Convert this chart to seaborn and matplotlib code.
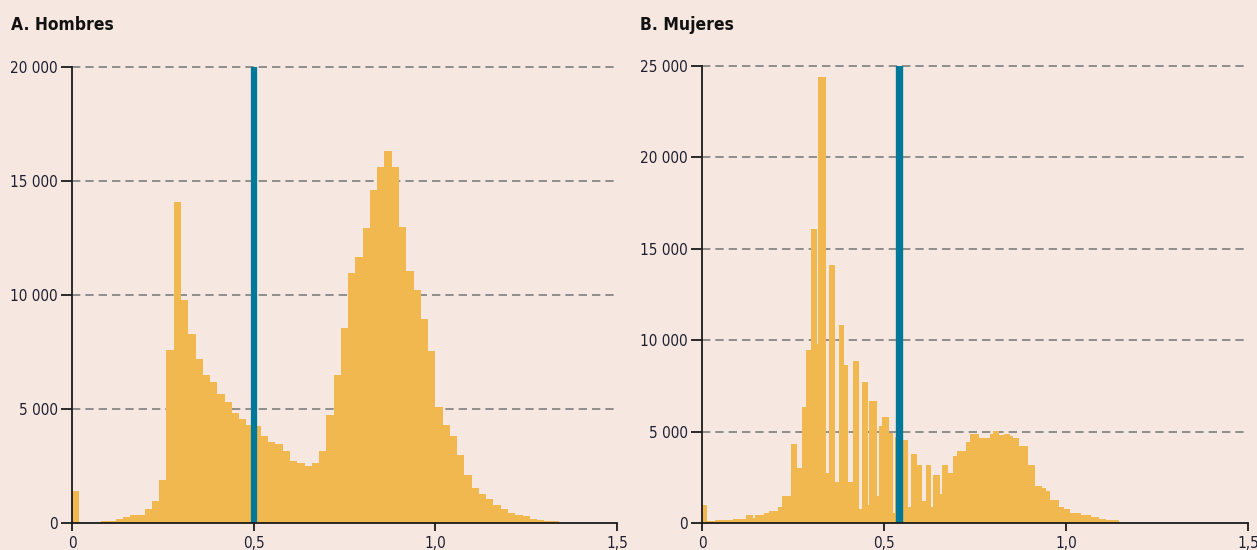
import numpy as np
import pandas as pd
import matplotlib
matplotlib.use("Agg")
import matplotlib.pyplot as plt
from matplotlib import font_manager
import seaborn as sns

# A. Hombres: counts per bin of width 0.02, starting at 0
bin_width_h = 0.02
hombres_counts = [1400, 0, 0, 0, 100, 100, 190, 275, 365, 365,
                  610, 950, 1870, 7600, 14080, 9800, 8300, 7200, 6500, 6170,
                  5660, 5300, 4820, 4580, 4310, 4240, 3800, 3550, 3480, 3140,
                  2730, 2630, 2490, 2630, 3140, 4740, 6500, 8540, 10980, 11670,
                  12930, 14600, 15600, 16300, 15600, 13000, 11050, 10200, 8960, 7540,
                  5100, 4320, 3800, 2970, 2120, 1540, 1270, 1050, 780, 610,
                  440, 370, 290, 190, 120, 100, 100]
hombres_ref = 0.5

# B. Mujeres: irregular bins (edges) and counts
mujeres_edges = [0.0, 0.015, 0.035, 0.085, 0.12, 0.14, 0.145, 0.17, 0.185, 0.21,
                 0.22, 0.245, 0.26, 0.275, 0.285, 0.30, 0.315, 0.32, 0.34, 0.35,
                 0.365, 0.375, 0.39, 0.40, 0.415, 0.43, 0.44, 0.455, 0.46, 0.48,
                 0.485, 0.495, 0.515, 0.525, 0.53, 0.55, 0.565, 0.575, 0.59, 0.605,
                 0.615, 0.63, 0.635, 0.655, 0.66, 0.675, 0.69, 0.70, 0.725, 0.735,
                 0.76, 0.79, 0.80, 0.815, 0.83, 0.845, 0.855, 0.87, 0.895, 0.915,
                 0.935, 0.945, 0.955, 0.98, 0.995, 1.01, 1.04, 1.07, 1.09, 1.11, 1.145]
mujeres_counts = [960, 90, 140, 240, 450, 270, 450, 550, 670, 870,
                  1490, 4340, 3000, 6320, 9470, 16100, 9800, 24400, 2730, 14100,
                  2220, 10840, 8620, 2220, 8840, 770, 7690, 1000, 6650, 1470,
                  5280, 5800, 4920, 550, 4700, 4520, 870, 3790, 3150, 1180,
                  3150, 870, 2640, 1580, 3150, 2730, 3680, 3920, 4430, 4870,
                  4650, 4870, 5060, 4830, 4880, 4770, 4650, 4230, 3190, 2040,
                  1910, 1730, 1270, 850, 770, 550, 420, 330, 220, 140]
mujeres_ref = 0.54

x_ticks = [0, 0.5, 1.0, 1.5]
x_labels = ["0", "0,5", "1,0", "1,5"]
y_ticks_h = [0, 5000, 10000, 15000, 20000]
y_labels_h = ["0", "5 000", "10 000", "15 000", "20 000"]
y_ticks_m = [0, 5000, 10000, 15000, 20000, 25000]
y_labels_m = ["0", "5 000", "10 000", "15 000", "20 000", "25 000"]

BG = "#F6E8E1"
BAR = "#F0B84F"
BLUE = "#00789A"
TXT = "#1E1E30"

sns.set_style("ticks")
# condensed face if any is installed
names = {f.name for f in font_manager.fontManager.ttflist}
narrow = [n for n in ["Liberation Sans Narrow", "DejaVu Sans Condensed"] if n in names]
plt.rcParams["font.family"] = narrow + ["DejaVu Sans"]
plt.rcParams["font.stretch"] = "condensed"

fig = plt.figure(figsize=(12.57, 5.5), dpi=100, facecolor=BG)
ax_h = fig.add_axes([72 / 1257, 27 / 550, 545 / 1257, 456 / 550])
ax_m = fig.add_axes([702 / 1257, 27 / 550, 546 / 1257, 457 / 550])

# hombres
edges_h = [i * bin_width_h for i in range(len(hombres_counts) + 1)]
df_h = pd.DataFrame({
    "valor": [e + bin_width_h / 2 for e in edges_h[:-1]],
    "n": hombres_counts,
})
sns.histplot(data=df_h, x="valor", weights="n", bins=edges_h, ax=ax_h,
             color=BAR, alpha=1, linewidth=0)

# mujeres
df_m = pd.DataFrame({
    "valor": [(a + b) / 2 for a, b in zip(mujeres_edges[:-1], mujeres_edges[1:])],
    "n": mujeres_counts,
})
sns.histplot(data=df_m, x="valor", weights="n", bins=mujeres_edges, ax=ax_m,
             color=BAR, alpha=1, linewidth=0)


def style_axis(ax, ref, lw, yticks, ylabels, title, title_x):
    ax.set_facecolor(BG)
    ax.axvline(ref, color=BLUE, lw=lw, zorder=3)
    ax.set_xlim(0, 1.5)
    ax.set_ylim(0, yticks[-1])
    ax.set_xticks(x_ticks)
    ax.set_xticklabels(x_labels)
    ax.set_yticks(yticks)
    ax.set_yticklabels(ylabels)
    ax.set_xlabel("")
    ax.set_ylabel("")
    ax.set_axisbelow(True)
    for y in yticks[1:]:
        ax.axhline(y, color="#7f7f7f", lw=1.2, ls=(0, (5, 3)), zorder=0.5,
                   clip_on=False)
    sns.despine(ax=ax)
    for s in ["left", "bottom"]:
        ax.spines[s].set_linewidth(1.3)
        ax.spines[s].set_color("#1a1a1a")
        ax.spines[s].set_zorder(4)
    ax.tick_params(axis="y", length=8, width=1.3, pad=2, labelsize=11,
                   labelcolor=TXT, color="#1a1a1a")
    ax.tick_params(axis="x", length=6, width=1.3, pad=3, labelsize=11,
                   labelcolor=TXT, color="#1a1a1a")
    fig.text(title_x / 1257, 1 - 25 / 550, title, fontsize=12.5, fontweight="bold",
             color="#111111", va="center", ha="left")


style_axis(ax_h, hombres_ref, 4.5, y_ticks_h, y_labels_h, "A. Hombres", 11)
style_axis(ax_m, mujeres_ref, 5.3, y_ticks_m, y_labels_m, "B. Mujeres", 640)

fig.savefig("out.png", dpi=100, facecolor=BG)
